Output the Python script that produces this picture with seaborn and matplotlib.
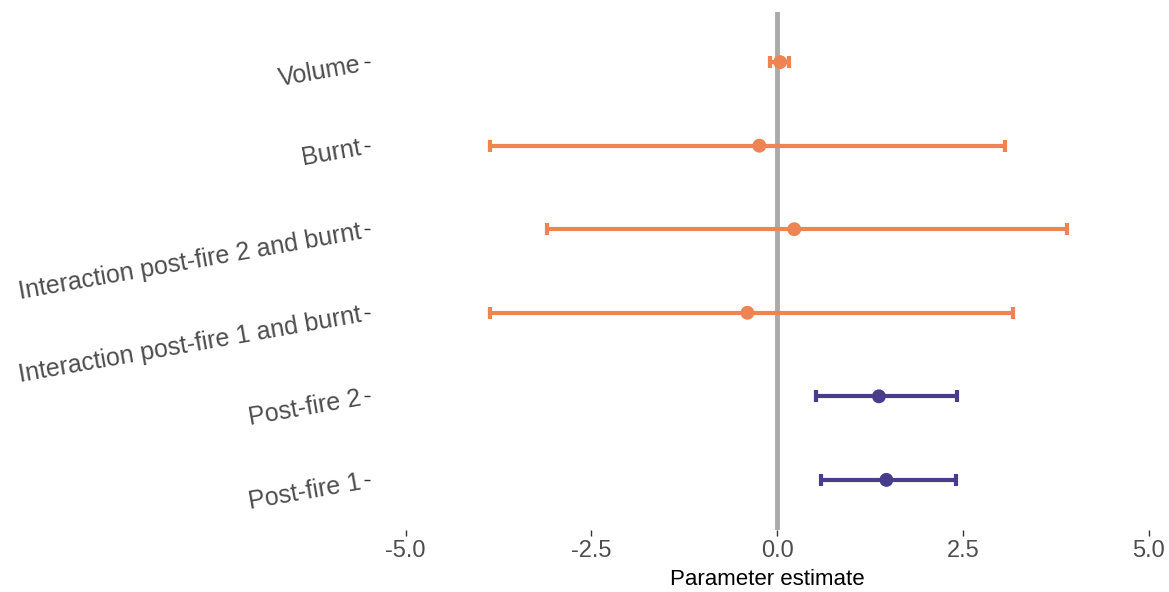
import matplotlib
matplotlib.use("Agg")
import matplotlib.pyplot as plt
import seaborn as sns
import pandas as pd
import numpy as np

# Model terms, top to bottom
terms = ["Volume", "Burnt", "Interaction post-fire 2 and burnt",
         "Interaction post-fire 1 and burnt", "Post-fire 2", "Post-fire 1"]
estimate = [0.04, -0.24, 0.23, -0.40, 1.37, 1.47]
lower = [-0.10, -3.86, -3.10, -3.86, 0.52, 0.59]
upper = [0.16, 3.07, 3.90, 3.18, 2.42, 2.41]
group = ["ns", "ns", "ns", "ns", "sig", "sig"]
xticks = [-5.0, -2.5, 0.0, 2.5, 5.0]

palette = {"ns": "#EE8354", "sig": "#483D8B"}

df = pd.DataFrame({"term": terms, "estimate": estimate, "lower": lower,
                   "upper": upper, "group": group})
df["pos"] = np.arange(len(df))

sns.set_theme(style="white")
plt.rcParams["font.family"] = ["Liberation Sans", "DejaVu Sans"]

fig = plt.figure(figsize=(11.69, 5.92), dpi=100)
ax = fig.add_axes([370 / 1169, 62 / 592, 795 / 1169, 518 / 592])

ax.axvline(0, color="#AAAAAA", lw=3.5, zorder=1)

for _, r in df.iterrows():
    c = palette[r["group"]]
    ax.errorbar(r["estimate"], r["pos"],
                xerr=[[r["estimate"] - r["lower"]], [r["upper"] - r["estimate"]]],
                fmt="none", ecolor=c, elinewidth=3, capsize=4, capthick=3,
                zorder=2)

sns.scatterplot(data=df, x="estimate", y="pos", hue="group", palette=palette,
                s=100, edgecolor="none", legend=False, ax=ax, zorder=3)

ax.set_xlim(-5.48, 5.22)
ax.set_ylim(len(terms) - 1 + 0.6, -0.6)
ax.set_xticks(xticks)
ax.set_xticklabels([f"{v:.1f}" for v in xticks], fontsize=17, color="#4D4D4D")
ax.set_yticks(df["pos"])
ax.set_yticklabels(terms, fontsize=18, color="#4D4D4D", rotation=10,
                   ha="right", rotation_mode="anchor")
ax.tick_params(axis="both", length=4, width=1, color="#333333",
               left=True, bottom=True, pad=3)
ax.set_xlabel("Parameter estimate", fontsize=16, color="black", labelpad=5)
ax.set_ylabel("")
for s in ax.spines.values():
    s.set_visible(False)

fig.savefig("out.png", dpi=100)
